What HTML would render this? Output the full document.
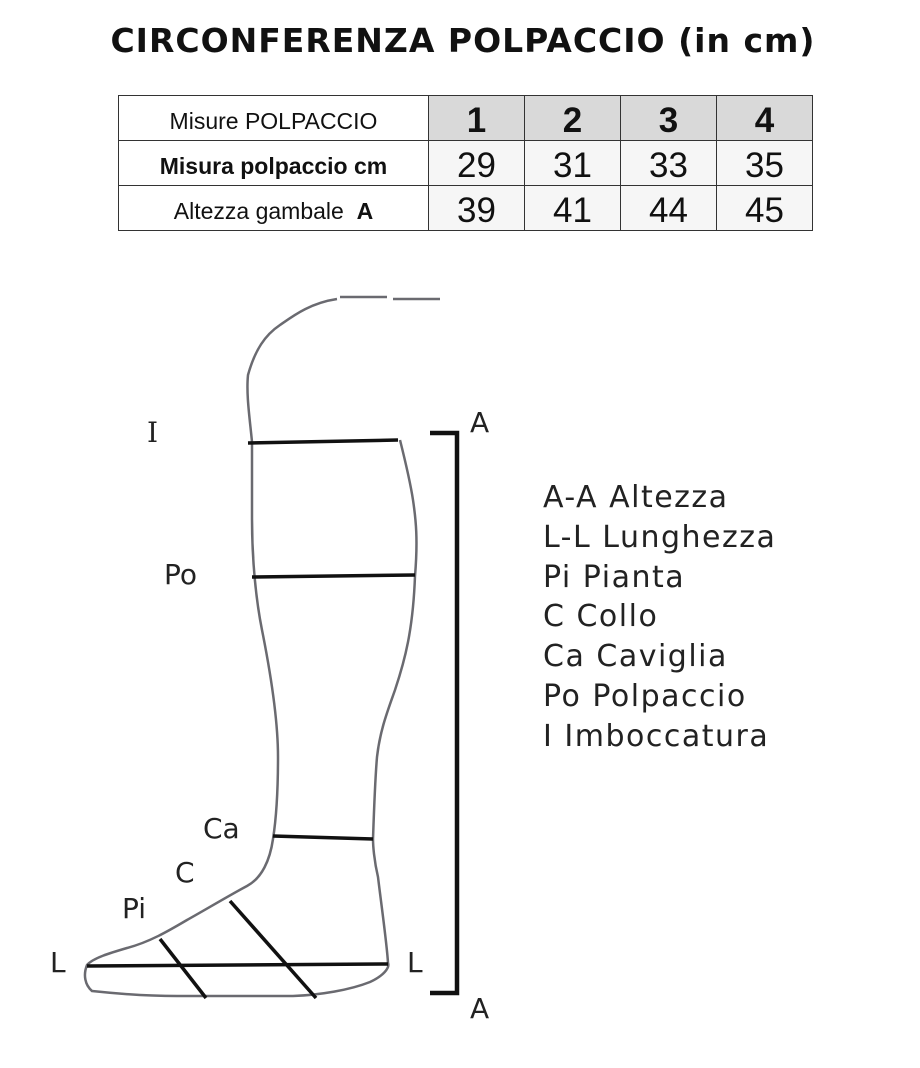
<!DOCTYPE html>
<html><head><meta charset="utf-8"><style>
body{margin:0;width:920px;height:1068px;background:#fff;position:relative;overflow:hidden;font-family:"Liberation Sans",sans-serif}
.t{position:absolute;left:0;width:926px;top:21px;text-align:center;font:bold 33px "DejaVu Sans",sans-serif;letter-spacing:1px;color:#111}
table{position:absolute;left:118px;top:95px;border-collapse:collapse}
td{border:1.5px solid #333;padding:0;text-align:center;height:44px;line-height:1;color:#111}
td.l{width:309px;font-size:23px}
td.l span{position:relative;top:3px}
td.n{width:95px;font-size:35px;background:#f6f6f6}
td.n span{position:relative;top:2px}
tr.h td.n{background:#d9d9d9;font-weight:bold}
.lg{position:absolute;left:543px;top:478px;font:30px "DejaVu Sans",sans-serif;letter-spacing:1.5px;line-height:39.8px;color:#222}
</style></head><body>
<div class="t">CIRCONFERENZA POLPACCIO (in cm)</div>
<table>
<tr class="h"><td class="l"><span>Misure POLPACCIO</span></td><td class="n"><span>1</span></td><td class="n"><span>2</span></td><td class="n"><span>3</span></td><td class="n"><span>4</span></td></tr>
<tr><td class="l"><span><b>Misura polpaccio cm</b></span></td><td class="n"><span>29</span></td><td class="n"><span>31</span></td><td class="n"><span>33</span></td><td class="n"><span>35</span></td></tr>
<tr><td class="l"><span>Altezza gambale &nbsp;<b>A</b></span></td><td class="n"><span>39</span></td><td class="n"><span>41</span></td><td class="n"><span>44</span></td><td class="n"><span>45</span></td></tr>
</table>
<svg width="920" height="1068" style="position:absolute;left:0;top:0">
<g fill="none" stroke="#6a6a70" stroke-width="2.5" stroke-linejoin="round">
<path d="M340,297 L387,297 M393,299 L440,299"/>
<path d="M337,299 C310,303 293,316 280,325 C265,335 255,350 248,375 C246,395 250,420 252,442 L252,519 C252,560 256,600 262,630 C270,670 278,720 278,757 C278,790 276,820 273,839 C270,860 262,878 247,886 C230,895 205,910 187,920 C170,930 150,942 127,948 C110,953 93,958 87,965 C83,975 85,985 92,991 C120,994 150,996 177,996 L293,996 C320,995 350,990 370,982 C383,976 390,968 388,963 C387,945 382,910 378,877 C374,860 373,845 373,839 C374,810 375,780 377,757 C380,730 388,710 395,690 C405,660 413,630 415,576 C418,540 416,520 413,500 C410,480 405,460 400,440"/>
</g>
<g stroke="#111" stroke-width="3.5" fill="none">
<line x1="248" y1="443" x2="398" y2="440"/>
<line x1="252" y1="577" x2="415" y2="575"/>
<line x1="273" y1="836" x2="373" y2="839"/>
<line x1="87" y1="966" x2="388" y2="964"/>
<line x1="160" y1="939" x2="206" y2="998"/>
<line x1="230" y1="901" x2="316" y2="998"/>
<path d="M430,433 L457,433 L457,993 L430,993" stroke-width="4.5"/>
</g>
<g font-family="DejaVu Sans, sans-serif" font-size="28" fill="#222">
<text x="147" y="442" font-family="DejaVu Serif, serif">I</text>
<text x="470" y="432">A</text>
<text x="164" y="584">Po</text>
<text x="203" y="838">Ca</text>
<text x="175" y="882">C</text>
<text x="122" y="918">Pi</text>
<text x="50" y="972">L</text>
<text x="407" y="972">L</text>
<text x="470" y="1018">A</text>
</g>
</svg>
<div class="lg">A-A Altezza<br>L-L Lunghezza<br>Pi Pianta<br>C Collo<br>Ca Caviglia<br>Po Polpaccio<br>I Imboccatura</div>
</body></html>
